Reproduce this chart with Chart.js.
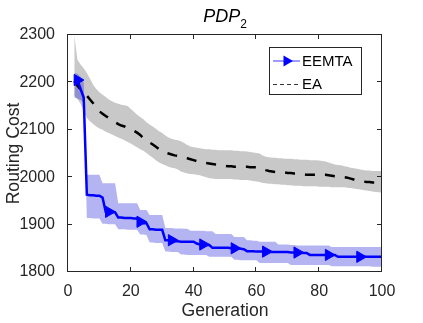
<!DOCTYPE html>
<html>
<head>
<meta charset="utf-8">
<script src="https://cdn.jsdelivr.net/npm/chart.js@4.4.1/dist/chart.umd.min.js"></script>
<style>
  html,body{margin:0;padding:0;background:#fff;}
  #wrap{position:relative;width:423px;height:323px;}
  #title{position:absolute;left:125px;width:200px;top:7px;text-align:center;
    font-family:"Liberation Sans",Arial,sans-serif;font-size:18px;line-height:18px;color:#000;}
  #title i{font-style:italic;}
  #title span{font-size:12px;position:relative;top:6px;}
</style>
</head>
<body>
<div id="wrap">
<canvas id="c" width="423" height="323"></canvas>
<div id="title"><i>PDP</i><span>2</span></div>
</div>
<script>
// ---- data ----
const generations = [2,3,4,5,6,7,8,9,10,11,12,13,14,15,16,17,18,19,20,21,22,23,24,25,26,27,28,29,30,31,32,33,34,35,36,37,38,39,40,41,42,43,44,45,46,47,48,49,50,51,52,53,54,55,56,57,58,59,60,61,62,63,64,65,66,67,68,69,70,71,72,73,74,75,76,77,78,79,80,81,82,83,84,85,86,87,88,89,90,91,92,93,94,95,96,97,98,99,100];

const eemtaMean = [2205,2205,2186,2168,1963,1962,1962,1961,1961,
  1957,1927,1927,1927,1926,1915,1915,1914,1914,1914,
  1913,1913,1906,1903,1903,1890,1890,1889,1889,1889,
  1867,1867,1867,1865,1865,1864,1864,1864,1864,1864,
  1860,1858,1858,1857,1857,1851,1851,1851,1851,1851,
  1851,1850,1850,1850,1849,1848,1844,1844,1844,1843,
  1843,1843,1843,1842,1842,1842,1842,1842,1842,1842,
  1841,1841,1841,1841,1840,1840,1836,1836,1836,1836,
  1836,1836,1836,1836,1836,1832,1832,1832,1832,1832,
  1832,1832,1832,1832,1832,1832,1832,1832,1832,1832];

const eemtaUpper = [2220,2218,2212,2200,2005,2005,2005,2005,2005,
  1987,1987,1987,1987,1987,1945,1945,1945,1945,1945,
  1945,1945,1931,1931,1931,1920,1920,1920,1920,1920,
  1893,1893,1893,1892,1892,1892,1891,1891,1887,1887,
  1887,1887,1887,1886,1886,1886,1880,1880,1880,1880,
  1880,1880,1874,1874,1874,1874,1867,1867,1866,1866,
  1864,1864,1864,1864,1864,1864,1858,1858,1858,1858,
  1857,1857,1856,1856,1856,1856,1856,1856,1856,1856,
  1856,1856,1856,1853,1853,1853,1853,1853,1853,1853,
  1853,1853,1853,1853,1853,1853,1853,1853,1853,1853];

const eemtaLower = [2168,2166,2163,2158,1914,1914,1913,1913,1913,
  1902,1902,1901,1901,1901,1890,1890,1890,1889,1889,
  1889,1889,1879,1879,1878,1862,1862,1861,1861,1861,
  1843,1843,1842,1842,1842,1837,1837,1836,1836,1836,
  1836,1836,1836,1836,1832,1832,1832,1832,1832,1832,
  1832,1832,1826,1826,1825,1825,1825,1825,1825,1825,
  1819,1819,1819,1819,1819,1819,1819,1819,1819,1819,
  1815,1815,1815,1815,1815,1815,1815,1815,1815,1815,
  1815,1815,1815,1812,1812,1812,1812,1812,1812,1812,
  1812,1812,1812,1812,1812,1812,1811,1811,1811,1811];

const eaMean = [2203,2193,2185,2179,2172,2164,2156,2147,2139,
  2134,2129,2125,2121,2116,2112,2109,2107,2104,2101,
  2098,2094,2089,2082,2077,2073,2069,2064,2059,2055,
  2052,2050,2048,2046,2045,2043,2042,2040,2038,2036,
  2034,2033,2031,2030,2029,2028,2027,2026,2025,2024,
  2023,2023,2022,2022,2022,2022,2022,2021,2021,2021,
  2020,2018,2015,2013,2012,2011,2011,2010,2010,2009,
  2009,2008,2008,2007,2006,2005,2005,2005,2005,2005,
  2005,2005,2004,2003,2002,2001,2000,2000,1999,1997,
  1995,1993,1992,1991,1990,1990,1989,1989,1989,1989];

const eaUpper = [2300,2248,2238,2230,2220,2208,2195,2186,2179,
  2174,2169,2164,2160,2157,2155,2153,2152,2150,2144,
  2138,2132,2127,2122,2116,2111,2107,2102,2097,2093,
  2088,2084,2081,2079,2078,2076,2072,2068,2065,2063,
  2062,2061,2060,2059,2059,2058,2058,2057,2057,2057,
  2057,2057,2056,2056,2055,2055,2054,2053,2052,2051,
  2050,2046,2043,2042,2041,2041,2040,2040,2039,2039,
  2039,2038,2038,2037,2037,2037,2036,2036,2036,2035,
  2034,2033,2031,2029,2027,2026,2025,2023,2022,2020,
  2019,2018,2016,2015,2014,2014,2013,2013,2013,2013];

const eaLower = [2172,2165,2155,2140,2125,2118,2112,2107,2103,
  2100,2096,2093,2090,2087,2084,2081,2078,2074,2071,
  2067,2063,2059,2056,2051,2046,2041,2036,2031,2028,
  2025,2022,2020,2019,2016,2012,2010,2008,2007,2006,
  2005,2004,2002,2000,1998,1997,1996,1996,1996,1996,
  1996,1996,1995,1995,1994,1994,1994,1993,1992,1991,
  1990,1988,1987,1986,1986,1985,1985,1984,1984,1983,
  1983,1982,1982,1982,1981,1981,1981,1981,1981,1980,
  1980,1980,1980,1979,1979,1979,1979,1979,1978,1977,
  1976,1975,1974,1973,1972,1971,1970,1969,1968,1967];

const markerGenerations = [3,13,23,33,43,53,63,73,83,93];
const xTicks = [0,20,40,60,80,100];
const yTicks = [1800,1900,2000,2100,2200,2300];
const seriesNames = ['EEMTA','EA'];

// ---- chart ----
const FONT = '"Liberation Sans", Arial, sans-serif';
const AX = '#262626';
const pts = arr => generations.map((g,i)=>({x:g,y:arr[i]}));
const markerRadius = generations.map(g => markerGenerations.includes(g) ? 6.5 : 0);

const framePlugin = {
  id:'frame',
  afterDraw(chart){
    const {ctx, chartArea:a} = chart;
    const x = chart.scales.x, y = chart.scales.y;
    ctx.save();
    ctx.fillStyle = AX;
    const L = Math.round(a.left), R = Math.round(a.right), T = Math.round(a.top), B = Math.round(a.bottom);
    // box
    ctx.fillRect(L-1, T-1, R-L+1, 1);   // top
    ctx.fillRect(L-1, B-1, R-L+1, 1);   // bottom
    ctx.fillRect(L-1, T-1, 1, B-T+1);   // left
    ctx.fillRect(R-1, T-1, 1, B-T+1);   // right
    const tl = 4;
    xTicks.forEach(v=>{
      const px = Math.round(x.getPixelForValue(v));
      ctx.fillRect(px-1, B-1-tl, 1, tl);
      ctx.fillRect(px-1, T, 1, tl);
    });
    yTicks.forEach(v=>{
      const py = Math.round(y.getPixelForValue(v));
      ctx.fillRect(L, py-1, tl, 1);
      ctx.fillRect(R-1-tl, py-1, tl, 1);
    });

    // legend
    const bx=269.5, by=47.5, bw=92, bh=47;
    ctx.fillStyle='#fff'; ctx.fillRect(bx,by,bw,bh);
    ctx.strokeStyle=AX; ctx.lineWidth=1; ctx.strokeRect(bx,by,bw,bh);
    const y1=61, y2=84;
    ctx.strokeStyle='rgb(125,125,255)'; ctx.lineWidth=1.5;
    ctx.beginPath(); ctx.moveTo(273,y1); ctx.lineTo(300,y1); ctx.stroke();
    ctx.fillStyle='#0000ff';
    ctx.beginPath(); ctx.moveTo(293,y1); ctx.lineTo(283.5,y1-5.5); ctx.lineTo(283.5,y1+5.5); ctx.closePath(); ctx.fill();
    ctx.strokeStyle='#333'; ctx.lineWidth=1; ctx.setLineDash([4,3]);
    ctx.beginPath(); ctx.moveTo(273,y2+0.5); ctx.lineTo(300,y2+0.5); ctx.stroke();
    ctx.setLineDash([]);
    ctx.fillStyle='#000'; ctx.font='15px '+FONT; ctx.textBaseline='middle'; ctx.textAlign='left';
    ctx.fillText(seriesNames[0],302,y1+1);
    ctx.fillText(seriesNames[1],302,y2+1);
    ctx.restore();
  }
};

new Chart(document.getElementById('c'), {
  type:'line',
  data:{
    datasets:[
      {data:pts(eaLower), borderColor:'rgba(0,0,0,0)', borderWidth:0, pointRadius:0, fill:false, order:5},
      {data:pts(eaUpper), borderColor:'rgba(0,0,0,0)', borderWidth:0, pointRadius:0, fill:'-1', backgroundColor:'rgb(200,200,200)', order:4},
      {data:pts(eemtaLower), borderColor:'rgba(0,0,0,0)', borderWidth:0, pointRadius:0, fill:false, order:3},
      {data:pts(eemtaUpper), borderColor:'rgba(0,0,0,0)', borderWidth:0, pointRadius:0, fill:'-1', backgroundColor:'rgba(40,40,220,0.35)', order:2},
      {label:seriesNames[1], data:pts(eaMean), borderColor:'#000', borderWidth:2.5, borderDash:[10,10], pointRadius:0, fill:false, tension:0, order:1},
      {label:seriesNames[0], data:pts(eemtaMean), borderColor:'#0000ff', borderWidth:2.5, pointRadius:markerRadius,
        pointStyle:'triangle', rotation:90, pointBackgroundColor:'#0000ff', pointBorderColor:'#0000ff', pointBorderWidth:1,
        fill:false, tension:0, order:0}
    ]
  },
  options:{
    responsive:false, animation:false, devicePixelRatio:1,
    layout:{padding:{top:35,right:41,left:0,bottom:0}},
    plugins:{legend:{display:false}, tooltip:{enabled:false}, title:{display:false}},
    elements:{line:{tension:0}},
    scales:{
      x:{type:'linear', min:0, max:100,
        afterBuildTicks(s){ s.ticks = xTicks.map(v=>({value:v})); },
        ticks:{font:{size:16,family:FONT}, color:AX, padding:2, maxRotation:0, autoSkip:false, callback:v=>String(v)},
        grid:{display:false}, border:{display:false},
        title:{display:true, text:'Generation', color:AX, font:{size:17.6,family:FONT}, padding:{top:0,bottom:1}},
        afterFit(s){ s.height = 51; }
      },
      y:{type:'linear', min:1800, max:2300,
        afterBuildTicks(s){ s.ticks = yTicks.map(v=>({value:v})); },
        ticks:{font:{size:16,family:FONT}, color:AX, padding:5, autoSkip:false, callback:v=>String(v)},
        grid:{display:false}, border:{display:false},
        title:{display:true, text:'Routing Cost', color:AX, font:{size:17.6,family:FONT}, padding:{top:4,bottom:0}},
        afterFit(s){ s.width = 68; }
      }
    }
  },
  plugins:[framePlugin]
});
</script>
</body>
</html>
